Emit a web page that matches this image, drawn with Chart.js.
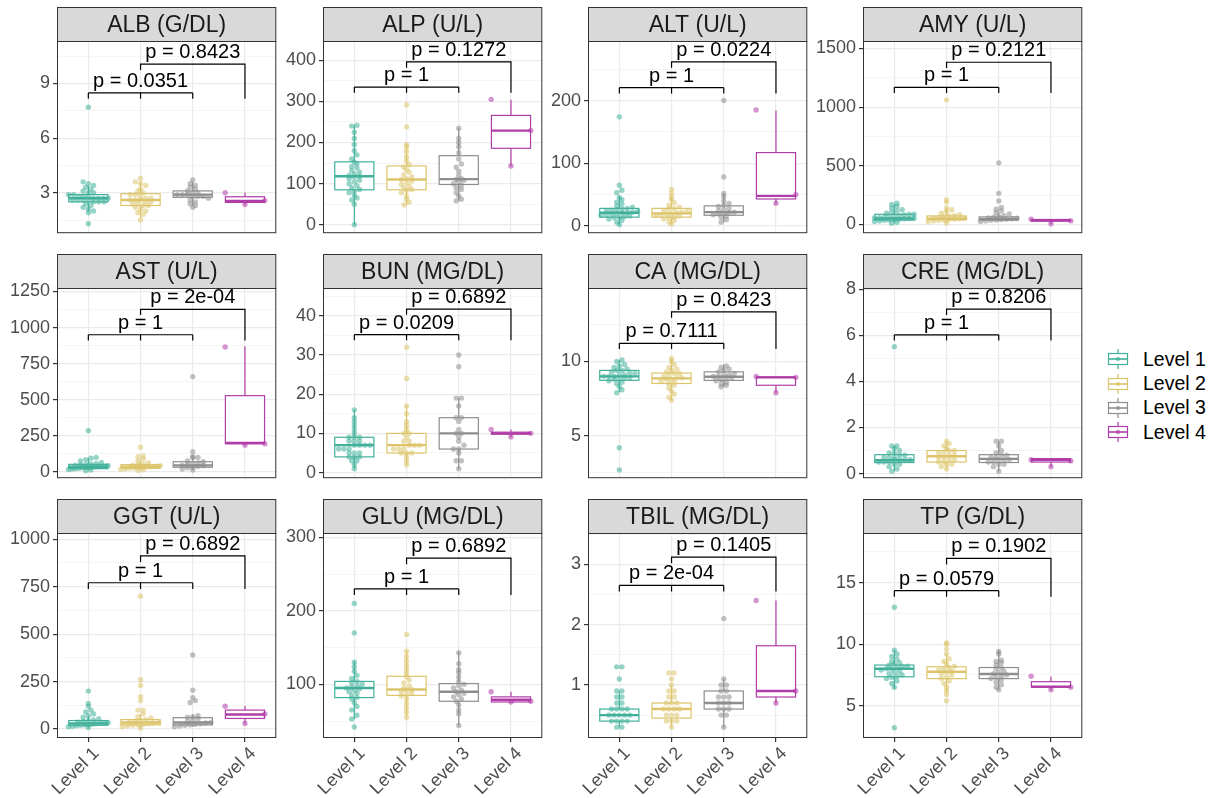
<!DOCTYPE html>
<html>
<head>
<meta charset="utf-8">
<script src="https://cdn.jsdelivr.net/npm/chart.js@4.4.1/dist/chart.umd.min.js"></script>
<style>
  body { margin: 0; background: #fff; }
  #wrap { position: relative; width: 1214px; height: 798px; overflow: hidden; font-family: 'Liberation Sans', Arial, sans-serif; }
  #wrap canvas { position: absolute; }
  #legend { position: absolute; left: 1106px; top: 347px; }
  .key { display: flex; align-items: center; height: 24.4px; }
  .key svg { margin-right: 13px; }
  .key span { font-size: 19.5px; color: #000; }
</style>
</head>
<body>
<div id="wrap"><div id="legend"></div></div>
<script>
// ---- data ----
const panelTitles = ['ALB (G/DL)', 'ALP (U/L)', 'ALT (U/L)', 'AMY (U/L)',
                     'AST (U/L)', 'BUN (MG/DL)', 'CA (MG/DL)', 'CRE (MG/DL)',
                     'GGT (U/L)', 'GLU (MG/DL)', 'TBIL (MG/DL)', 'TP (G/DL)'];
const levels = ['Level 1', 'Level 2', 'Level 3', 'Level 4'];
const levelColors = ['#41B09A', '#DDC46B', '#8E8E8E', '#B03DA8'];

const yLimits = [[0.78, 11.33], [-20.6, 447], [-11.6, 295], [-75, 1564],
                 [-44, 1274], [-1.44, 47.1], [2.15, 14.94], [-0.2, 8.05],
                 [-47, 1033], [27, 306], [0.12, 3.52], [2.37, 19.04]];
const yTicks = [[3, 6, 9], [0, 100, 200, 300, 400], [0, 100, 200], [0, 500, 1000, 1500],
                [0, 250, 500, 750, 1000, 1250], [0, 10, 20, 30, 40], [5, 10], [0, 2, 4, 6, 8],
                [0, 250, 500, 750, 1000], [100, 200, 300], [1, 2, 3], [5, 10, 15]];
// [bracket level1-3, bracket level2-4]
const bracketY = [[8.48, 10.06], [335, 396], [220.5, 261.7], [1169, 1383],
                  [950, 1126], [35.2, 41.7], [11.22, 13.33], [6.02, 7.13],
                  [771, 913], [230, 271.7], [2.65, 3.12], [14.35, 16.98]];
const pLabels = [['p = 0.0351', 'p = 0.8423'], ['p = 1', 'p = 0.1272'], ['p = 1', 'p = 0.0224'], ['p = 1', 'p = 0.2121'],
                 ['p = 1', 'p = 2e-04'], ['p = 0.0209', 'p = 0.6892'], ['p = 0.7111', 'p = 0.8423'], ['p = 1', 'p = 0.8206'],
                 ['p = 1', 'p = 0.6892'], ['p = 1', 'p = 0.6892'], ['p = 2e-04', 'p = 0.1405'], ['p = 0.0579', 'p = 0.1902']];

// box stats per level: [lower whisker, q1, median, q3, upper whisker]
const ALB_box = [[2.0, 2.5, 2.7, 2.9, 3.4], [1.6, 2.3, 2.6, 2.95, 3.6], [2.3, 2.75, 2.9, 3.1, 3.6], [2.35, 2.47, 2.55, 2.78, 3.0]];
const ALP_box = [[0, 85, 118, 153, 242], [48, 85, 110, 143, 195], [58, 98, 111, 168, 235], [143, 186, 229, 266, 304]];
const ALT_box = [[2, 14, 21, 28, 48], [3, 14, 20, 28, 50], [6, 17, 22, 32, 52], [36, 43, 48, 117, 184]];
const AMY_box = [[10, 37, 51, 86, 170], [12, 40, 48, 72, 140], [25, 37, 45, 64, 100], [5, 28, 35, 42, 45]];
const AST_box = [[8, 22, 35, 52, 95], [10, 25, 35, 50, 80], [12, 32, 45, 70, 100], [185, 195, 200, 528, 870]];
const BUN_box = [[1, 4, 7, 9, 16], [2, 5, 7, 10, 17], [1, 6, 10, 14, 19], [9.1, 9.8, 10, 10.3, 11]];
const CA_box = [[7.95, 8.73, 9.0, 9.4, 10.1], [7.4, 8.52, 8.86, 9.22, 10.2], [8.3, 8.73, 8.97, 9.3, 9.8], [7.9, 8.4, 8.93, 8.95, 9.0]];
const CRE_box = [[0.1, 0.48, 0.58, 0.82, 1.2], [0.2, 0.5, 0.75, 1.0, 1.4], [0.1, 0.48, 0.64, 0.82, 1.4], [0.3, 0.5, 0.6, 0.65, 0.65]];
const GGT_box = [[8, 20, 30, 45, 70], [5, 22, 35, 50, 80], [12, 22, 35, 60, 75], [30, 56, 77, 100, 121]];
const GLU_box = [[53, 82, 95, 104, 131], [55, 85, 93, 111, 145], [44, 77, 90, 101, 144], [76, 76, 79, 83, 90]];
const TBIL_box = [[0.3, 0.4, 0.5, 0.6, 0.9], [0.3, 0.45, 0.6, 0.7, 1.0], [0.3, 0.6, 0.7, 0.9, 1.1], [0.7, 0.8, 0.9, 1.65, 2.4]];
const TP_box = [[6.4, 7.35, 8.0, 8.3, 9.55], [6.1, 7.2, 7.76, 8.16, 9.2], [6.3, 7.2, 7.57, 8.1, 9.5], [6.3, 6.5, 6.55, 6.95, 7.35]];

// individual observations per level
const ALB_pts = [
  [7.7, 3.6, 3.5, 3.4, 3.3, 3.2, 3.1, 3.0, 3.0, 2.9, 2.9, 2.8, 2.8, 2.8, 2.7, 2.7, 2.7, 2.7, 2.6, 2.6, 2.6, 2.6, 2.5, 2.5, 2.5, 2.4, 2.3, 2.2, 2.1, 2.0, 1.9, 1.3],
  [3.8, 3.6, 3.5, 3.4, 3.2, 3.1, 3.0, 2.9, 2.9, 2.8, 2.7, 2.7, 2.6, 2.6, 2.6, 2.5, 2.5, 2.4, 2.4, 2.3, 2.3, 2.2, 2.1, 2.0, 1.9, 1.8, 1.5],
  [3.7, 3.5, 3.4, 3.3, 3.2, 3.1, 3.0, 3.0, 2.9, 2.9, 2.9, 2.8, 2.8, 2.8, 2.7, 2.6, 2.5, 2.4, 2.3, 2.2],
  [3.0, 2.57, 2.35]];
const ALP_pts = [
  [0, 50, 60, 65, 72, 78, 82, 86, 90, 95, 100, 104, 108, 112, 116, 118, 120, 124, 128, 132, 138, 142, 148, 152, 160, 170, 180, 195, 210, 225, 240, 242],
  [48, 55, 62, 70, 78, 84, 86, 90, 94, 98, 102, 106, 110, 112, 116, 122, 128, 134, 140, 146, 155, 165, 178, 190, 195, 238, 292],
  [58, 62, 70, 78, 86, 90, 96, 100, 104, 108, 110, 112, 120, 130, 140, 148, 160, 175, 190, 200, 210, 235],
  [305, 229, 143]];
const ALT_pts = [
  [2, 6, 9, 11, 13, 14, 15, 16, 17, 18, 19, 20, 21, 21, 22, 23, 24, 25, 26, 27, 28, 30, 32, 35, 38, 42, 45, 53, 57, 65, 174],
  [3, 6, 9, 11, 13, 14, 16, 17, 18, 19, 20, 21, 22, 23, 25, 27, 28, 30, 33, 37, 42, 46, 52, 58],
  [6, 10, 14, 16, 18, 19, 20, 21, 22, 24, 26, 28, 31, 33, 36, 40, 47, 52, 78, 200],
  [185, 50, 36]];
const AMY_pts = [
  [10, 18, 25, 30, 35, 38, 42, 45, 48, 50, 52, 55, 58, 62, 66, 70, 75, 80, 85, 88, 95, 105, 115, 125, 140, 155, 170, 180],
  [12, 20, 28, 34, 38, 42, 45, 48, 52, 56, 60, 65, 70, 75, 82, 95, 110, 125, 140, 190, 210, 1060],
  [25, 30, 35, 38, 42, 45, 48, 52, 56, 62, 68, 75, 90, 100, 115, 130, 145, 200, 265, 525],
  [45, 30, 5]];
const AST_pts = [
  [8, 12, 16, 20, 22, 25, 28, 30, 32, 34, 35, 36, 38, 40, 42, 45, 48, 50, 54, 58, 65, 75, 85, 95, 100, 285],
  [10, 14, 18, 22, 25, 28, 30, 33, 35, 37, 40, 43, 46, 50, 55, 62, 75, 90, 105, 110, 170],
  [12, 20, 28, 32, 38, 42, 45, 50, 55, 62, 70, 75, 100, 100, 105, 140, 660],
  [865, 195, 185]];
const BUN_pts = [
  [1, 2, 3, 3, 4, 4, 4, 5, 5, 5, 6, 6, 6, 7, 7, 7, 7, 8, 8, 8, 9, 9, 9, 10, 11, 12, 13, 14, 16],
  [2, 3, 4, 5, 5, 5, 6, 6, 6, 7, 7, 7, 8, 8, 9, 10, 10, 11, 12, 13, 15, 17, 24, 32],
  [1, 3, 3, 5, 6, 6, 7, 8, 9, 10, 10, 11, 13, 14, 14, 17, 19, 19, 27, 30],
  [11, 10, 9.1]];
const CA_pts = [
  [2.7, 4.2, 7.9, 8.1, 8.3, 8.5, 8.6, 8.7, 8.8, 8.8, 8.9, 8.9, 9.0, 9.0, 9.0, 9.1, 9.1, 9.2, 9.2, 9.3, 9.4, 9.4, 9.5, 9.6, 9.7, 9.8, 10.0, 10.1],
  [7.4, 7.6, 7.8, 8.0, 8.2, 8.4, 8.5, 8.6, 8.7, 8.8, 8.8, 8.9, 8.9, 9.0, 9.1, 9.2, 9.2, 9.3, 9.4, 9.5, 9.6, 9.8, 10.0, 10.2],
  [8.3, 8.4, 8.5, 8.6, 8.7, 8.8, 8.9, 8.9, 9.0, 9.0, 9.1, 9.1, 9.2, 9.3, 9.4, 9.5, 9.6, 9.7],
  [9.0, 8.93, 7.9]];
const CRE_pts = [
  [0.1, 0.2, 0.3, 0.4, 0.4, 0.5, 0.5, 0.5, 0.6, 0.6, 0.6, 0.6, 0.7, 0.7, 0.7, 0.8, 0.8, 0.9, 0.9, 1.0, 1.1, 1.2, 1.2, 5.5],
  [0.2, 0.3, 0.4, 0.4, 0.5, 0.5, 0.6, 0.6, 0.7, 0.7, 0.8, 0.8, 0.9, 0.9, 1.0, 1.0, 1.1, 1.2, 1.3, 1.4],
  [0.1, 0.3, 0.4, 0.4, 0.5, 0.5, 0.6, 0.6, 0.6, 0.7, 0.7, 0.8, 0.8, 0.9, 1.0, 1.2, 1.4, 1.4],
  [0.6, 0.55, 0.3]];
const GGT_pts = [
  [8, 12, 15, 18, 20, 22, 24, 26, 28, 30, 32, 34, 36, 40, 44, 48, 55, 62, 70, 80, 90, 100, 120, 135, 200],
  [5, 12, 16, 20, 22, 25, 28, 32, 35, 38, 42, 46, 50, 58, 65, 80, 100, 100, 150, 170, 230, 260, 700],
  [12, 16, 20, 22, 25, 28, 32, 35, 40, 45, 55, 62, 65, 70, 140, 150, 165, 205, 390],
  [120, 80, 30]];
const GLU_pts = [
  [42, 53, 58, 65, 70, 75, 80, 82, 85, 88, 90, 92, 94, 95, 96, 98, 100, 102, 104, 108, 112, 118, 124, 130, 170, 210],
  [55, 62, 68, 74, 80, 84, 86, 88, 90, 92, 93, 95, 98, 102, 106, 110, 115, 120, 126, 132, 138, 145, 168],
  [44, 60, 65, 72, 77, 80, 83, 86, 88, 90, 92, 95, 98, 100, 104, 110, 116, 120, 128, 143],
  [90, 77, 76]];
const TBIL_pts = [
  [0.3, 0.3, 0.4, 0.4, 0.4, 0.4, 0.5, 0.5, 0.5, 0.5, 0.5, 0.6, 0.6, 0.6, 0.6, 0.7, 0.7, 0.8, 0.8, 0.9, 0.9, 1.1, 1.3, 1.3],
  [0.3, 0.4, 0.4, 0.4, 0.5, 0.5, 0.5, 0.6, 0.6, 0.6, 0.6, 0.7, 0.7, 0.7, 0.8, 0.8, 0.9, 0.9, 1.0, 1.1, 1.2, 1.2],
  [0.3, 0.5, 0.5, 0.6, 0.6, 0.6, 0.7, 0.7, 0.7, 0.8, 0.8, 0.8, 0.9, 0.9, 1.0, 1.0, 1.1, 2.1],
  [2.4, 0.9, 0.7]];
const TP_pts = [
  [3.2, 6.5, 6.8, 7.0, 7.2, 7.3, 7.4, 7.5, 7.6, 7.7, 7.8, 7.9, 8.0, 8.0, 8.1, 8.2, 8.2, 8.3, 8.4, 8.5, 8.6, 8.8, 9.0, 9.2, 9.5, 13.0],
  [5.4, 5.9, 6.2, 6.5, 6.8, 7.0, 7.2, 7.3, 7.5, 7.6, 7.7, 7.8, 7.9, 8.0, 8.1, 8.2, 8.4, 8.6, 8.8, 9.2, 9.6, 10.0, 10.1],
  [6.3, 6.5, 6.7, 6.9, 7.1, 7.2, 7.3, 7.4, 7.5, 7.6, 7.7, 7.8, 8.0, 8.1, 8.3, 8.5, 8.6, 8.7, 9.2, 9.4],
  [7.4, 6.5, 6.3]];

const boxStats = [ALB_box, ALP_box, ALT_box, AMY_box, AST_box, BUN_box, CA_box, CRE_box, GGT_box, GLU_box, TBIL_box, TP_box];
const pointSets = [ALB_pts, ALP_pts, ALT_pts, AMY_pts, AST_pts, BUN_pts, CA_pts, CRE_pts, GGT_pts, GLU_pts, TBIL_pts, TP_pts];

// ---- layout of the facet grid (page pixels) ----
const panelLeft = [57, 323, 588, 863];
const plotTop = [41, 288, 533];
const plotBottom = [245, 490, 738];
const PANEL_W = 220, STRIP_H = 34, AXIS_W = 60, X_AXIS_H = 62;

const FONT = "'Liberation Sans', Arial, sans-serif";
Chart.defaults.font.family = FONT;

// beeswarm-like horizontal spread: points sharing a row get fanned out
function spread(vals, lo, hi, plotH) {
    if (vals.length <= 3) return [-0.38, 0.38, 0].slice(0, vals.length);
    const bin = (hi - lo) * 4.5 / plotH;
    const rows = new Map();
    vals.forEach((v, i) => {
        const k = Math.round(v / bin);
        if (!rows.has(k)) rows.set(k, []);
        rows.get(k).push(i);
    });
    const xs = new Array(vals.length).fill(0);
    rows.forEach(idx => {
        const n = idx.length;
        const dx = n > 1 ? Math.min(0.1, 0.76 / (n - 1)) : 0;
        idx.forEach((i, j) => { xs[i] = (j - (n - 1) / 2) * dx; });
    });
    return xs;
}

function hexA(hex, a) {
    const n = parseInt(hex.slice(1), 16);
    return `rgba(${n >> 16}, ${(n >> 8) & 255}, ${n & 255}, ${a})`;
}

// boxes, brackets, strip and border for one facet
const facetPlugin = {
    id: 'facet',
    beforeDatasetsDraw(chart) {
        const o = chart.options.plugins.facet;
        const { ctx, chartArea: a, scales: { x, y } } = chart;
        ctx.save();
        ctx.beginPath();
        ctx.rect(a.left, a.top, a.width, a.height);
        ctx.clip();
        o.boxes.forEach((b, g) => {
            const cx = x.getPixelForValue(g + 1);
            const x0 = x.getPixelForValue(g + 1 - 0.375);
            const x1 = x.getPixelForValue(g + 1 + 0.375);
            const [lo, q1, md, q3, hi] = b.map(v => y.getPixelForValue(v));
            ctx.strokeStyle = levelColors[g];
            ctx.lineWidth = 1.2;
            ctx.beginPath();
            ctx.moveTo(cx, q3); ctx.lineTo(cx, hi);
            ctx.moveTo(cx, q1); ctx.lineTo(cx, lo);
            ctx.stroke();
            ctx.fillStyle = '#fff';
            ctx.fillRect(x0, q3, x1 - x0, q1 - q3);
            ctx.strokeRect(x0, q3, x1 - x0, q1 - q3);
            ctx.lineWidth = 2.4;
            ctx.beginPath();
            ctx.moveTo(x0, md); ctx.lineTo(x1, md);
            ctx.stroke();
        });
        ctx.restore();
    },
    afterDraw(chart) {
        const o = chart.options.plugins.facet;
        const { ctx, chartArea: a, scales: { x, y } } = chart;
        const tip = 0.03 * (y.max - y.min);
        const [b1, b2] = o.brackets;
        const X = v => x.getPixelForValue(v);
        const Y = v => y.getPixelForValue(v);
        ctx.save();
        // significance brackets
        ctx.strokeStyle = '#000';
        ctx.lineWidth = 1.2;
        ctx.beginPath();
        ctx.moveTo(X(1), Y(b1)); ctx.lineTo(X(3), Y(b1));
        [1, 2, 3].forEach(l => { ctx.moveTo(X(l), Y(b1)); ctx.lineTo(X(l), Y(b1 - tip)); });
        ctx.moveTo(X(2), Y(b2 - tip)); ctx.lineTo(X(2), Y(b2)); ctx.lineTo(X(4), Y(b2)); ctx.lineTo(X(4), Y(b1 - tip));
        ctx.stroke();
        ctx.fillStyle = '#000';
        ctx.font = `20px ${FONT}`;
        ctx.textAlign = 'center';
        ctx.textBaseline = 'alphabetic';
        ctx.fillText(o.labels[0], X(2), Y(b1) - 6);
        ctx.fillText(o.labels[1], X(3), Y(b2) - 6);
        // panel border
        ctx.strokeStyle = '#333';
        ctx.lineWidth = 1;
        ctx.strokeRect(a.left + 0.5, a.top + 0.5, a.width - 1, a.height - 1);
        // strip
        ctx.fillStyle = '#D9D9D9';
        ctx.fillRect(a.left + 0.5, a.top - STRIP_H + 0.5, a.width - 1, STRIP_H);
        ctx.strokeRect(a.left + 0.5, a.top - STRIP_H + 0.5, a.width - 1, STRIP_H);
        ctx.fillStyle = '#1A1A1A';
        ctx.font = `23px ${FONT}`;
        ctx.textBaseline = 'middle';
        ctx.fillText(o.title, (a.left + a.right) / 2, a.top - STRIP_H / 2 + 1.5);
        ctx.restore();
    }
};

const wrap = document.getElementById('wrap');

panelTitles.forEach((title, i) => {
    const row = Math.floor(i / 4), col = i % 4;
    const bottom = row === 2;
    const plotH = plotBottom[row] - plotTop[row];
    const W = AXIS_W + PANEL_W + 2;
    const H = STRIP_H + 1 + plotH + (bottom ? X_AXIS_H : 2);
    const cv = document.createElement('canvas');
    cv.width = W; cv.height = H;
    cv.style.width = W + 'px'; cv.style.height = H + 'px';
    cv.style.left = (panelLeft[col] - AXIS_W) + 'px';
    cv.style.top = (plotTop[row] - STRIP_H - 1) + 'px';
    wrap.appendChild(cv);

    const [lo, hi] = yLimits[i];
    const majors = yTicks[i];
    const step = majors[1] - majors[0];
    const allTicks = [];
    for (let v = majors[0] - step / 2; v <= hi; v += step / 2) {
        if (v >= lo) allTicks.push(+v.toFixed(6));
    }
    const isMajor = v => majors.indexOf(v) >= 0;

    const datasets = pointSets[i].map((vals, g) => {
        const offs = spread(vals, lo, hi, plotH);
        return {
            label: levels[g],
            data: vals.map((v, j) => ({ x: g + 1 + offs[j], y: v })),
            backgroundColor: hexA(levelColors[g], 0.55),
            borderWidth: 0,
            pointRadius: 2.7,
            pointHoverRadius: 2.7
        };
    });

    new Chart(cv, {
        type: 'scatter',
        data: { datasets },
        plugins: [facetPlugin],
        options: {
            responsive: false,
            animation: false,
            devicePixelRatio: 1,
            events: [],
            layout: { padding: { top: STRIP_H + 1, left: 0, right: 2, bottom: bottom ? 0 : 2 } },
            plugins: {
                legend: { display: false },
                tooltip: { enabled: false },
                facet: { title, boxes: boxStats[i], brackets: bracketY[i], labels: pLabels[i] }
            },
            scales: {
                x: {
                    type: 'linear', min: 0.4, max: 4.6,
                    afterBuildTicks: s => { s.ticks = [1, 2, 3, 4].map(v => ({ value: v })); },
                    afterFit: s => { s.height = bottom ? X_AXIS_H : 0; },
                    ticks: {
                        display: bottom,
                        autoSkip: false,
                        minRotation: 45, maxRotation: 45,
                        padding: 1,
                        labelOffset: 8,
                        color: '#4D4D4D',
                        font: { size: 18 },
                        callback: v => 'Level ' + v
                    },
                    grid: { color: '#EBEBEB', lineWidth: 1.2, drawTicks: bottom, tickLength: 4, tickColor: '#333' },
                    border: { display: false }
                },
                y: {
                    min: lo, max: hi,
                    afterBuildTicks: s => { s.ticks = allTicks.map(v => ({ value: v })); },
                    afterFit: s => { s.width = AXIS_W; },
                    ticks: {
                        autoSkip: false,
                        padding: 3,
                        color: '#4D4D4D',
                        font: { size: 18 },
                        callback: v => isMajor(v) ? String(v) : ''
                    },
                    grid: {
                        color: c => isMajor(c.tick.value) ? '#EBEBEB' : '#F3F3F3',
                        lineWidth: c => isMajor(c.tick.value) ? 1.2 : 0.8,
                        tickColor: c => isMajor(c.tick.value) ? '#333' : 'rgba(0,0,0,0)',
                        tickLength: 4
                    },
                    border: { display: false }
                }
            }
        }
    });
});

// legend: boxplot keys
const legend = document.getElementById('legend');
levels.forEach((name, g) => {
    const c = levelColors[g];
    const row = document.createElement('div');
    row.className = 'key';
    row.innerHTML =
        `<svg width="24" height="24" viewBox="0 0 24 24">` +
        `<line x1="12" y1="2" x2="12" y2="22" stroke="${c}" stroke-width="1.2"/>` +
        `<rect x="2.5" y="6.5" width="19" height="11" fill="#fff" stroke="${c}" stroke-width="1.2"/>` +
        `<line x1="2.5" y1="12" x2="21.5" y2="12" stroke="${c}" stroke-width="1.6"/>` +
        `<circle cx="12" cy="12" r="2.2" fill="${hexA(c, 0.6)}"/></svg>` +
        `<span>${name}</span>`;
    legend.appendChild(row);
});
</script>
</body>
</html>
